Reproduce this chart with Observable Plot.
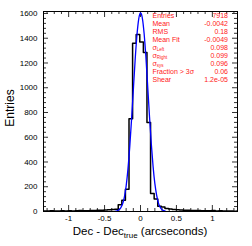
<!DOCTYPE html>
<html><head><meta charset="utf-8">
<script src="https://cdn.jsdelivr.net/npm/d3@7"></script>
<script src="https://cdn.jsdelivr.net/npm/@observablehq/plot@0.6"></script>
<style>html,body{margin:0;padding:0;background:#fff} svg{display:block}</style>
</head><body><div id="chart"></div>
<script>
// ---- data ----
const binStart = -1.36;
const binWidth = 0.05;
const counts = [5,4,6,5,4,6,5,7,5,6,8,6,7,9,8,10,11,13,15,16,19,55,90,180,750,1360,1430,1370,1285,720,145,100,42,36,25,21,17,14,12,11,10,9,8,8,7,7,6,8,5,6,4,5,4,3,4];
const fitX = [-0.35,-0.325,-0.3,-0.275,-0.25,-0.225,-0.2,-0.175,-0.15,-0.125,-0.1,-0.075,-0.05,-0.025,0,0.025,0.05,0.075,0.1,0.125,0.15,0.175,0.2,0.225,0.25,0.275,0.3,0.325,0.35];
const fitY = [2,6,14,30,60,115,205,340,520,740,980,1220,1420,1555,1605,1565,1440,1250,1010,770,550,365,225,130,68,33,15,7,2];
const xTicks = [-1,-0.5,0,0.5,1];
const xTickLabels = ["-1","-0.5","0","0.5","1"];
const xMinor = [-1.3,-1.2,-1.1,-0.9,-0.8,-0.7,-0.6,-0.4,-0.3,-0.2,-0.1,0.1,0.2,0.3,0.4,0.6,0.7,0.8,0.9,1.1,1.2,1.3];
const yTicks = [0,200,400,600,800,1000,1200,1400,1600];
const yMinor = [40,80,120,160,240,280,320,360,440,480,520,560,640,680,720,760,840,880,920,960,1040,1080,1120,1160,1240,1280,1320,1360,1440,1480,1520,1560];
const statLabels = ["Entries","Mean","RMS","Mean Fit","σ","σ","σ","Fraction > 3σ","Shear"];
const statSubs = ["","","","","Left","Right","sys","",""];
const statValues = ["7918","-0.0042","0.18","-0.0049","0.098","0.099","0.096","0.06","1.2e-05"];

// ---- tables ----
const hist = counts.map((c,i)=>({x: binStart + i*binWidth, y: c}));
hist.push({x: binStart + counts.length*binWidth, y: counts[counts.length-1]});
const fit = fitX.map((x,i)=>({x, y: fitY[i]}));

const W=252, H=246, mL=43, mR=15, mT=11, mB=35;
const fw = W-mL-mR, fh = H-mT-mB;
const tc = "#333";
const font = "'Liberation Sans', Arial, Helvetica, sans-serif";

const plot = Plot.plot({
  width: W, height: H,
  marginLeft: mL, marginRight: mR, marginTop: mT, marginBottom: mB,
  x: {domain: [-1.35, 1.35]},
  y: {domain: [0, 1616]},
  style: {fontFamily: font, fontSize: "8px", color: "#000", background: "#fff", overflow: "visible"},
  marks: [
    Plot.tickY(yTicks, {y: d=>d, insetRight: fw-5, stroke: tc}),
    Plot.tickY(yMinor, {y: d=>d, insetRight: fw-3, stroke: tc}),
    Plot.tickY(yTicks, {y: d=>d, insetLeft: fw-5, stroke: tc}),
    Plot.tickY(yMinor, {y: d=>d, insetLeft: fw-3, stroke: tc}),
    Plot.tickX(xTicks, {x: d=>d, insetTop: fh-6, stroke: tc}),
    Plot.tickX(xMinor, {x: d=>d, insetTop: fh-3, stroke: tc}),
    Plot.tickX(xTicks, {x: d=>d, insetBottom: fh-6, stroke: tc}),
    Plot.tickX(xMinor, {x: d=>d, insetBottom: fh-3, stroke: tc}),
    Plot.line(hist, {x: "x", y: "y", curve: "step-after", stroke: "#000", strokeWidth: 1.5, clip: true}),
    Plot.line(fit, {x: "x", y: "y", curve: "natural", stroke: "#0000ff", strokeWidth: 1.3, clip: true}),
    Plot.frame({stroke: "#000"}),
    Plot.axisX({ticks: xTicks, tickFormat: d => xTickLabels[xTicks.indexOf(d)], tickSize: 0, tickPadding: 4, label: null}),
    Plot.axisY({ticks: yTicks, tickFormat: d => String(d), tickSize: 0, tickPadding: 6, label: null})
  ]
});

const svg = d3.select(plot);
// stats box
const g = svg.append("g").attr("fill", "#ff2020").attr("font-family", font).attr("font-size", 7);
statLabels.forEach((lab, i) => {
  const y = 17.5 + 8*i;
  const t = g.append("text").attr("x", 152.5).attr("y", y).attr("text-anchor", "start");
  t.append("tspan").text(lab);
  if (statSubs[i]) t.append("tspan").attr("font-size", 4.5).attr("dy", 1.5).text(statSubs[i]);
  g.append("text").attr("x", 228).attr("y", y).attr("text-anchor", "end").text(statValues[i]);
});
// x title
const xt = svg.append("text").attr("x", 140).attr("y", 235).attr("text-anchor", "middle")
  .attr("font-family", font).attr("font-size", 11.5).attr("fill", "#000");
xt.append("tspan").text("Dec - Dec");
xt.append("tspan").attr("font-size", 8).attr("dy", 2.5).text("true");
xt.append("tspan").attr("dy", -2.5).text(" (arcseconds)");
// y title
svg.append("text").attr("transform", "translate(13.5,108) rotate(-90)").attr("text-anchor", "middle")
  .attr("font-family", font).attr("font-size", 12).attr("fill", "#000").text("Entries");

document.getElementById("chart").appendChild(plot);
</script>
</body></html>
